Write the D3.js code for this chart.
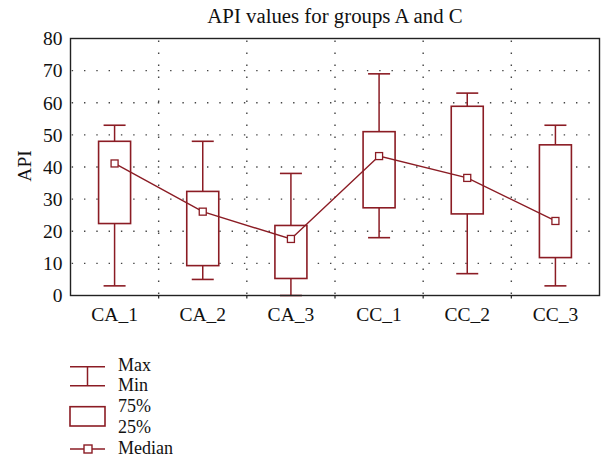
<!DOCTYPE html>
<html>
<head>
<meta charset="utf-8">
<script src="https://cdn.jsdelivr.net/npm/d3@7"></script>
<style>
  html, body { margin: 0; padding: 0; background: #fff; }
  svg { display: block; }
  text { font-family: "Liberation Serif", "Times New Roman", serif; fill: #111; }
</style>
</head>
<body>
<svg id="chart" width="603" height="460"></svg>
<script>
const categories = ["CA_1", "CA_2", "CA_3", "CC_1", "CC_2", "CC_3"];
const maxValues    = [53, 48, 38, 69, 63, 53];
const q75Values    = [48, 32.4, 21.8, 51, 58.9, 46.9];
const medianValues = [41.1, 26.1, 17.6, 43.4, 36.6, 23.2];
const q25Values    = [22.4, 9.3, 5.3, 27.3, 25.4, 11.8];
const minValues    = [3, 5, 0, 18, 6.8, 3];
const yTicks = [0, 10, 20, 30, 40, 50, 60, 70, 80];
const legendLabels = ["Max", "Min", "75%", "25%", "Median"];

const color = "#8b1c24";
const svg = d3.select("#chart");
const margin = { left: 70.5, right: 3.5, top: 38.5, bottom: 164.5 };
const W = 603, H = 460;
const x0 = margin.left, x1 = W - margin.right;
const y0 = H - margin.bottom, y1 = margin.top;

const x = d3.scaleBand().domain(categories).range([x0, x1]).padding(0);
const y = d3.scaleLinear().domain([0, 80]).range([y0, y1]);

// Title
svg.append("text")
  .attr("x", 335).attr("y", 22.5)
  .attr("text-anchor", "middle")
  .style("font-size", "20.8px")
  .text("API values for groups A and C");

// Grid (dotted)
const grid = svg.append("g");
grid.selectAll("line.h").data(yTicks.filter(t => t > 0 && t < 80)).join("line")
  .attr("x1", x0 + 1).attr("x2", x1)
  .attr("y1", d => y(d)).attr("y2", d => y(d))
  .attr("stroke", "#444").attr("stroke-width", 1.4)
  .attr("stroke-dasharray", "1.4,10.9").attr("stroke-dashoffset", -12.5);
grid.selectAll("line.v").data(categories.slice(1)).join("line")
  .attr("x1", d => x(d)).attr("x2", d => x(d))
  .attr("y1", y1 + 1).attr("y2", y0)
  .attr("stroke", "#444").attr("stroke-width", 1.4)
  .attr("stroke-dasharray", "1.4,10.6").attr("stroke-dashoffset", -1);

// Y axis labels
const yAxis = d3.axisLeft(y).tickValues(yTicks).tickSize(0).tickPadding(8);
const ya = svg.append("g").attr("transform", `translate(${x0},0)`).call(yAxis);
ya.select(".domain").remove();
ya.selectAll("text").style("font-size", "19.5px").style("font-family", '"Liberation Serif", serif').attr("fill", "#111");

// X axis labels
const xAxis = d3.axisBottom(x).tickSize(0).tickPadding(12);
const xa = svg.append("g").attr("transform", `translate(0,${y0})`).call(xAxis);
xa.select(".domain").remove();
xa.selectAll("text").style("font-size", "19.5px").style("font-family", '"Liberation Serif", serif').attr("fill", "#111");

// small ticks at category boundaries below the frame
svg.append("g").selectAll("line").data(categories.slice(1)).join("line")
  .attr("x1", d => x(d)).attr("x2", d => x(d))
  .attr("y1", y0).attr("y2", y0 + 3)
  .attr("stroke", "#222").attr("stroke-width", 1.2);

// Y label
svg.append("text")
  .attr("transform", "translate(31,166) rotate(-90)")
  .attr("text-anchor", "middle")
  .style("font-size", "19.5px")
  .text("API");

// Boxes
const data = categories.map((c, i) => ({
  c, max: maxValues[i], q75: q75Values[i], med: medianValues[i], q25: q25Values[i], min: minValues[i]
}));
const bw = 32, cw = 22;
const g = svg.append("g");
data.forEach(d => {
  const cx = x(d.c) + x.bandwidth() / 2;
  g.append("line").attr("x1", cx).attr("x2", cx).attr("y1", y(d.max)).attr("y2", y(d.q75))
    .attr("stroke", color).attr("stroke-width", 1.5);
  g.append("line").attr("x1", cx).attr("x2", cx).attr("y1", y(d.q25)).attr("y2", y(d.min))
    .attr("stroke", color).attr("stroke-width", 1.5);
  g.append("line").attr("x1", cx - cw / 2).attr("x2", cx + cw / 2).attr("y1", y(d.max)).attr("y2", y(d.max))
    .attr("stroke", color).attr("stroke-width", 1.6);
  g.append("line").attr("x1", cx - cw / 2).attr("x2", cx + cw / 2).attr("y1", y(d.min)).attr("y2", y(d.min))
    .attr("stroke", color).attr("stroke-width", 1.6);
  g.append("rect").attr("x", cx - bw / 2).attr("width", bw)
    .attr("y", y(d.q75)).attr("height", y(d.q25) - y(d.q75))
    .attr("fill", "#fff").attr("stroke", color).attr("stroke-width", 1.6);
});

// Median line
const line = d3.line().x(d => x(d.c) + x.bandwidth() / 2).y(d => y(d.med));
svg.append("path").datum(data).attr("d", line)
  .attr("fill", "none").attr("stroke", color).attr("stroke-width", 1.4);
svg.selectAll("rect.med").data(data).join("rect")
  .attr("x", d => x(d.c) + x.bandwidth() / 2 - 3.5)
  .attr("y", d => y(d.med) - 3.5)
  .attr("width", 7).attr("height", 7)
  .attr("fill", "#fff").attr("stroke", color).attr("stroke-width", 1.3);

// Frame
svg.append("rect").attr("x", x0).attr("y", y1).attr("width", x1 - x0).attr("height", y0 - y1)
  .attr("fill", "none").attr("stroke", "#222").attr("stroke-width", 1.4);

// Legend
const lg = svg.append("g");
const lx0 = 70, lx1 = 105, lcx = 87.5;
lg.append("line").attr("x1", lx0).attr("x2", lx1).attr("y1", 366.7).attr("y2", 366.7).attr("stroke", color).attr("stroke-width", 1.5);
lg.append("line").attr("x1", lx0).attr("x2", lx1).attr("y1", 385.7).attr("y2", 385.7).attr("stroke", color).attr("stroke-width", 1.5);
lg.append("line").attr("x1", lcx).attr("x2", lcx).attr("y1", 366.7).attr("y2", 385.7).attr("stroke", color).attr("stroke-width", 1.5);
lg.append("rect").attr("x", lx0).attr("y", 406.7).attr("width", lx1 - lx0).attr("height", 19.3)
  .attr("fill", "#fff").attr("stroke", color).attr("stroke-width", 1.6);
lg.append("line").attr("x1", lx0).attr("x2", lx1).attr("y1", 449).attr("y2", 449).attr("stroke", color).attr("stroke-width", 1.4);
lg.append("rect").attr("x", 88 - 4).attr("y", 449 - 4).attr("width", 8).attr("height", 8)
  .attr("fill", "#fff").attr("stroke", color).attr("stroke-width", 1.4);
const lys = [370.5, 391, 412, 432.5, 454];
lg.selectAll("text").data(legendLabels).join("text")
  .attr("x", 118).attr("y", (d, i) => lys[i])
  .style("font-size", "18px")
  .text(d => d);
</script>
</body>
</html>
